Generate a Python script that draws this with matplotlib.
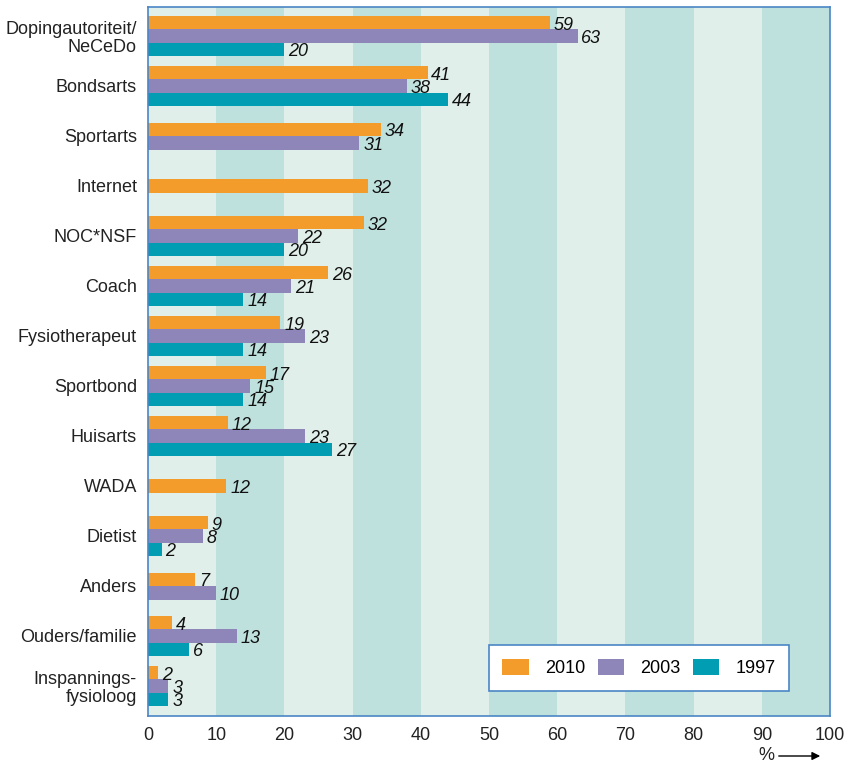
import numpy as np
import matplotlib
matplotlib.use("Agg")
import matplotlib.pyplot as plt
from matplotlib.patches import Patch

plt.rcParams['font.family'] = ['Liberation Sans', 'DejaVu Sans']

# categorieen (van boven naar beneden)
categories = ["Dopingautoriteit/\nNeCeDo", "Bondsarts", "Sportarts", "Internet", "NOC*NSF",
              "Coach", "Fysiotherapeut", "Sportbond", "Huisarts", "WADA", "Dietist",
              "Anders", "Ouders/familie", "Inspannings-\nfysioloog"]

# percentages per jaar (None = niet gevraagd)
v2010 = [58.9, 41, 34.2, 32.2, 31.7, 26.4, 19.4, 17.3, 11.7, 11.5, 8.8, 6.9, 3.5, 1.5]
v2003 = [63, 38, 31, None, 22, 21, 23, 15, 23, None, 8, 10, 13, 3]
v1997 = [20, 44, None, None, 20, 14, 14, 14, 27, None, 2, None, 6, 3]

years = ["2010", "2003", "1997"]
colors = ['#f39c2b', '#8e85b9', '#009db3']
series = [v2010, v2003, v1997]

fig = plt.figure(figsize=(8.46, 7.65), dpi=100)
ax = fig.add_axes([148/846, 1 - 716/765, 682/846, 709/765])

# achtergrond strepen
for i in range(10):
    c = '#e0efea' if i % 2 == 0 else '#bfe1de'
    ax.axvspan(i*10, i*10+10, color=c, zorder=0, lw=0)

bh = 0.27
for gi, cat in enumerate(categories):
    present = [k for k in range(3) if series[k][gi] is not None]
    n = len(present)
    for j, k in enumerate(present):
        val = series[k][gi]
        y = gi + (j - (n - 1) / 2) * bh
        ax.barh(y, val, height=bh, color=colors[k], zorder=2, lw=0)
        ax.text(val + 0.55, y + 0.05, str(int(round(val))), va='center', ha='left',
                fontsize=13, fontstyle='italic', color='#111111', zorder=3)

ax.set_xlim(0, 100)
ax.set_ylim(13.6, -0.58)
ax.set_xticks(range(0, 101, 10))
ax.set_yticks(range(len(categories)))
ax.set_yticklabels(categories, fontsize=13, ha='right', linespacing=1.1)
ax.tick_params(axis='both', length=0, labelsize=13, colors='#222222')
ax.tick_params(axis='y', pad=8)
ax.tick_params(axis='x', pad=8)
for s in ax.spines.values():
    s.set_color('#4a86c5')
    s.set_linewidth(1.2)

handles = [Patch(facecolor=colors[k], edgecolor='none') for k in range(3)]
leg = ax.legend(handles, years, ncol=3, loc='center', bbox_to_anchor=(0.72, 0.068),
                frameon=True, fancybox=False, fontsize=13, handlelength=1.45, handleheight=1.05,
                columnspacing=0.7, handletextpad=0.9, borderpad=0.75)
leg.get_frame().set_edgecolor('#4a86c5')
leg.get_frame().set_linewidth(1.2)
leg.get_frame().set_facecolor('white')
leg.get_frame().set_alpha(1)

fig.text(766/846, 1 - 755/765, "%", ha='center', va='center', fontsize=13, color='#222222')
fig.add_artist(matplotlib.patches.FancyArrowPatch((776/846, 1 - 756/765), (823/846, 1 - 756/765),
               transform=fig.transFigure, arrowstyle='-|>', mutation_scale=12, color='black', lw=1))

fig.savefig("out.png", dpi=100)
